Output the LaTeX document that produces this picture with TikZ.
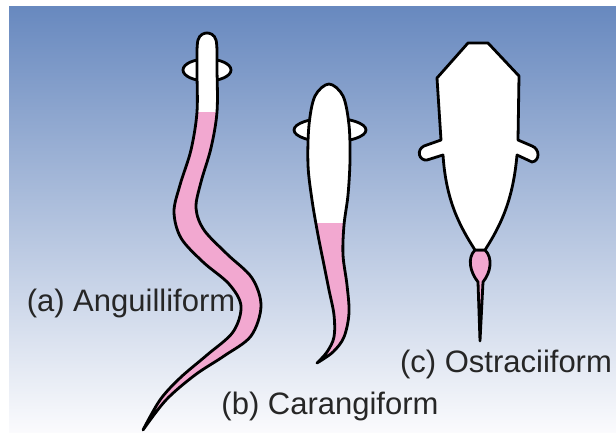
\documentclass[tikz,border=0pt]{standalone}
\usepackage{fontspec}
\setmainfont{Liberation Sans}
\definecolor{bodypink}{RGB}{242,168,208}
\definecolor{seatop}{RGB}{104,137,191}
\definecolor{seabottom}{RGB}{251,251,253}

\tikzset{
  outline/.style={draw=black, line width=2.8pt, line join=round},
  caption/.style={font=\fontsize{31}{36}\selectfont, text=black!85, inner sep=0pt},
  fin/.style={outline, fill=white},
}

% body outlines, tip of the tail first
\newcommand\eelbody{plot[smooth, tension=0.55] coordinates {(143,430) (160,400) (180,378) (207,355) (233,332) (241,306) (229,284) (203,262) (181,238) (174,212) (180,185) (191,150) (197,112) (197,70) (198,40) (207,33) (216,40) (217,70) (217,112) (211,148) (201,182) (196,208) (204,230) (227,254) (252,278) (261,306) (251,336) (224,356) (195,375) (166,400) (143,430)} -- cycle}
\newcommand\jackbody{plot[smooth, tension=0.55] coordinates {(317,363) (327,352) (334,337) (334,315) (329,290) (324,265) (318,235) (312,200) (308,165) (309,125) (315,96) (329,84) (343,96) (349,125) (350,160) (348,195) (344,225) (343,255) (347,285) (349,313) (344,337) (333,352) (317,363)} -- cycle}
\newcommand\boxbody{(468,43) -- (488,43) -- (519,76) -- (518,140) -- (532,146) .. controls (540,149) and (540,161) .. (532,162) -- (517,155) .. controls (513,200) and (501,225) .. (485,250) -- (475,250) .. controls (459,225) and (446,200) .. (443,155) -- (427,160) .. controls (419,161) and (416,150) .. (424,146) -- (441,140) -- (437,78) -- cycle}

\begin{document}
\begin{tikzpicture}[x=1pt, y=-1pt]
  \useasboundingbox (0,0) rectangle (616,433);
  \shade[top color=seatop, bottom color=seabottom] (9,7) rectangle (616,433);

  % (a) eel-like swimmer
  \draw[fin] (207,70) ellipse [x radius=24, y radius=11];
  \fill[bodypink] \eelbody;
  \begin{scope}
    \clip (0,0) rectangle (616,112);
    \fill[white] \eelbody;
  \end{scope}
  \draw[outline] \eelbody;

  % (b) jack-like swimmer
  \draw[fin] (330,130) ellipse [x radius=36, y radius=12];
  \fill[bodypink] \jackbody;
  \begin{scope}
    \clip (0,0) rectangle (616,222);
    \fill[white] \jackbody;
  \end{scope}
  \draw[outline] \jackbody;

  % (c) boxfish, only the tail moves
  \draw[outline, fill=bodypink] (475,250) .. controls (467,258) and (470,272) .. (478,282)
    -- (480,341) -- (483,282) .. controls (491,272) and (493,258) .. (485,250) -- cycle;
  \draw[outline, fill=white] \boxbody;

  \node[caption] (anguilli) at (131,303) {(a) Anguilliform};
  \node[caption] (carangi) at (330,406) {(b) Carangiform};
  \node[caption] (ostraci) at (506,364) {(c) Ostraciiform};
\end{tikzpicture}
\end{document}
